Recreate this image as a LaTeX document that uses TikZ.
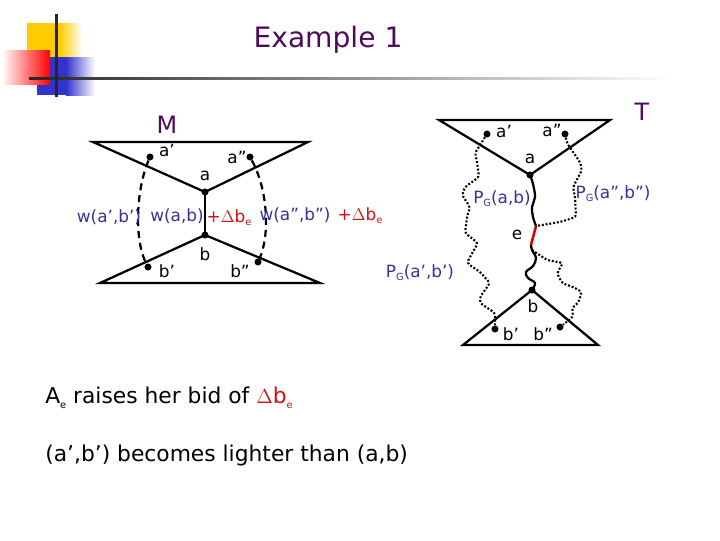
\documentclass[tikz,border=0pt]{standalone}
\usepackage{fontspec}
\setmainfont{DejaVu Sans}
\usetikzlibrary{positioning}
\definecolor{titlepurple}{HTML}{4E0B5A}
\definecolor{wblue}{HTML}{333399}
\definecolor{bidred}{HTML}{CC1111}
\definecolor{logoyellow}{HTML}{FFCC00}
\definecolor{logoblue}{HTML}{3333CC}
\newcommand{\dbe}{$\Delta$b\raisebox{-0.35ex}{\scriptsize e}}
\newcommand{\pg}{P\raisebox{-0.35ex}{\scriptsize G}}
\tikzset{
  tree/.style={line width=1.6pt},
  dot/.style={circle,fill=black,inner sep=0pt,minimum size=5pt},
  lbl/.style={font=\fontsize{12}{12}\selectfont,inner sep=1pt},
  wlbl/.style={lbl,text=wblue},
  rlbl/.style={lbl,text=bidred},
  gpath/.style={line width=1.5pt,dash pattern=on 1.4pt off 1.3pt,rounded corners=2pt},
  wpath/.style={line width=1.6pt},
  wdash/.style={line width=1.6pt,dash pattern=on 5pt off 3.5pt},
  bodytext/.style={anchor=west,font=\fontsize{15.5}{15.5}\selectfont,inner sep=0pt}
}
\begin{document}
\begin{tikzpicture}[x=0.025cm,y=-0.025cm]
\useasboundingbox (0,0) rectangle (720,540);
% logo
\fill[logoyellow] (27,23) rectangle (60,57);
\shade[left color=logoyellow,right color=white] (60,23) rectangle (82,57);
\fill[logoblue] (37,57) rectangle (66,95);
\shade[left color=logoblue,right color=white] (66,57) rectangle (95,95);
\shade[left color=red!5,right color=red] (4,50) rectangle (50,84);
\shade[left color=black!85,right color=white] (29,77) rectangle (673,79.5);
\fill[black!85] (54.5,14) rectangle (57.5,97);
% title
\node[text=titlepurple,font=\fontsize{20}{20}\selectfont] (title) at (328,40) {Example 1};
% left graph M
\node[text=titlepurple,font=\fontsize{17}{17}\selectfont] (M) at (167,125) {M};
\coordinate (Mtl) at (93,142);
\coordinate (Mtr) at (308,142);
\coordinate (Mbl) at (100,283);
\coordinate (Mbr) at (320,283);
\node[dot] (Ma) at (205,192) {};
\node[dot] (Mb) at (205,235) {};
\node[dot] (Map) at (150,157) {};
\node[dot] (Mapp) at (250,157) {};
\node[dot] (Mbp) at (148,267) {};
\node[dot] (Mbpp) at (258,262) {};
\draw[tree] (Mtl) -- (Mtr) -- (Ma.center) -- cycle;
\draw[tree] (Mbl) -- (Mbr) -- (Mb.center) -- cycle;
\draw[tree] (Ma.center) -- (Mb.center);
\draw[wdash] (Map) .. controls (136,190) and (134,240) .. (Mbp);
\draw[wdash] (Mapp) .. controls (268,190) and (270,235) .. (Mbpp);
\node[lbl] at (167,150) {a’};
\node[lbl] at (237,157) {a”};
\node[lbl] at (205,176) {a};
\node[lbl] at (205,254) {b};
\node[lbl] at (167,271) {b’};
\node[lbl] at (240,271) {b”};
\node[wlbl] (wp) at (109,217) {w(a’,b’)};
\node[wlbl] (wab) at (177,216) {w(a,b)};
\node[rlbl] (dab) at (229,218) {+\dbe};
\node[wlbl] (wpp) at (295,215) {w(a”,b”)};
\node[rlbl] (dpp) at (360,216) {+\dbe};
% right graph T
\node[text=titlepurple,font=\fontsize{17}{17}\selectfont] (T) at (642,112) {T};
\coordinate (Ttl) at (439,120);
\coordinate (Ttr) at (610,120);
\coordinate (Tbl) at (463,345);
\coordinate (Tbr) at (598,345);
\node[dot] (Ta) at (530,175) {};
\node[dot] (Tb) at (532,290) {};
\node[dot] (Tap) at (487,134) {};
\node[dot] (Tapp) at (565,134) {};
\node[dot] (Tbp) at (495,329) {};
\node[dot] (Tbpp) at (560,327) {};
\coordinate (Te1) at (536,226);
\coordinate (Te2) at (531,245);
\coordinate (Te3) at (532,250);
\draw[tree] (Ttl) -- (Ttr) -- (Ta.center) -- cycle;
\draw[tree] (Tbl) -- (Tbr) -- (Tb.center) -- cycle;
\draw[wpath] plot[smooth,tension=0.6] coordinates {(Ta.center) (533,184) (535,197) (532,207) (533,217) (Te1)};
\draw[line width=1.8pt,red!85!black] (Te1) -- (Te2);
\draw[wpath] plot[smooth,tension=0.6] coordinates {(Te2) (Te3) (536,258) (533,266) (526,272) (528,278) (535,283) (Tb.center)};
\draw[gpath] (Tap) -- (480,145) -- (475,153) -- (477,162) -- (479,177) -- (465,187) -- (462,195) -- (470,207) -- (467,217) -- (465,233) -- (478,243) -- (470,257) -- (467,263) -- (480,272) -- (490,283) -- (480,297) -- (480,303) -- (495,313) -- (Tbp);
\draw[gpath] (Tapp) -- (567,143) -- (573,152) -- (580,162) -- (582,170) -- (573,187) -- (575,197) -- (576,217) -- (560,222) -- (Te1);
\draw[gpath] (Te3) -- (547,260) -- (563,263) -- (557,273) -- (562,283) -- (573,287) -- (582,292) -- (578,303) -- (572,308) -- (573,317) -- (Tbpp);
\node[lbl] at (504,131) {a’};
\node[lbl] at (552,130) {a”};
\node[lbl] at (530,159) {a};
\node[lbl] at (533,306) {b};
\node[lbl] at (511,334) {b’};
\node[lbl] at (543,334) {b”};
\node[lbl] at (517,235) {e};
\node[wlbl] (pgab) at (502,199) {\pg(a,b)};
\node[wlbl] (pgpp) at (613,194) {\pg(a”,b”)};
\node[wlbl] (pgp) at (420,273) {\pg(a’,b’)};
% text
\node[bodytext] (line1) at (45,398) {A\raisebox{-0.4ex}{\scriptsize e} raises her bid of {\color{bidred}\dbe}};
\node[bodytext] (line2) at (45,455) {(a’,b’) becomes lighter than (a,b)};
\end{tikzpicture}
\end{document}
